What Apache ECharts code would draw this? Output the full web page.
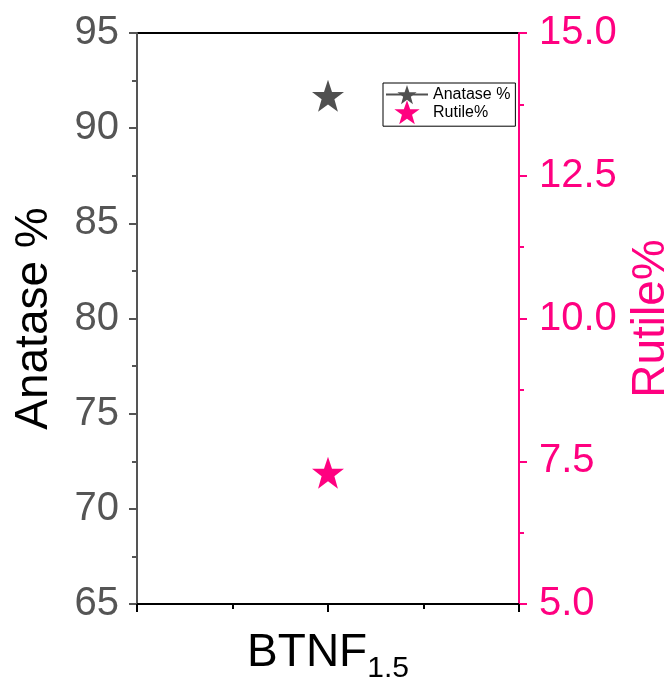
<!DOCTYPE html>
<html>
<head>
<meta charset="utf-8">
<script src="https://cdn.jsdelivr.net/npm/echarts@6/dist/echarts.min.js"></script>
<style>
  html, body { margin: 0; padding: 0; background: #fff; }
  #chart { width: 671px; height: 686px; }
</style>
</head>
<body>
<div id="chart"></div>
<script>
// sample names; 'BTNF' with subscript '1.5'
const categories = [['BTNF', '1.5']];
const anatase = [91.7];
const rutile = [7.3];
const leftRange = [65, 95, 5];
const rightRange = [5, 15, 2.5];

const GRAY = '#555555';
const PINK = '#ff0080';
const STAR = 'path://M50,0 L62.5,36 L100,36 L70,58 L81,95 L50,73 L19,95 L30,58 L0,36 L37.5,36 Z';
const FONT = 'Liberation Sans, Arial, sans-serif';

const chart = echarts.init(document.getElementById('chart'));

const option = {
  animation: false,
  textStyle: { fontFamily: FONT },
  grid: {
    left: 137, right: 152, top: 33, bottom: 82,
    outerBoundsMode: 'none',
    containLabel: false,
    show: true, borderColor: '#000', borderWidth: 2
  },
  legend: {
    orient: 'vertical',
    left: 383, top: 83,
    padding: [2, 5, 2, 2],
    itemGap: -4,
    itemWidth: 42, itemHeight: 24,
    borderColor: '#000', borderWidth: 1,
    backgroundColor: '#fff',
    textStyle: { fontSize: 16, color: '#000', fontFamily: FONT },
    data: ['Anatase %', 'Rutile%']
  },
  xAxis: {
    type: 'value',
    min: 0, max: categories.length + 1, interval: 1,
    splitLine: { show: false },
    axisLine: { show: true, lineStyle: { color: '#000', width: 2 } },
    axisTick: { show: true, inside: false, length: 8, lineStyle: { color: '#000', width: 2 } },
    minorTick: { show: true, splitNumber: 2, length: 5, lineStyle: { color: '#000', width: 2 } },
    axisLabel: {
      margin: 22,
      color: '#000',
      formatter: v => {
        const c = categories[v - 1];
        return c ? '{b|' + c[0] + '}{s|' + c[1] + '}' : '';
      },
      rich: {
        b: { fontSize: 46, fontFamily: FONT, color: '#000', verticalAlign: 'bottom', lineHeight: 50 },
        s: { fontSize: 30, fontFamily: FONT, color: '#000', verticalAlign: 'bottom', padding: [0, 0, -8, 0] }
      }
    }
  },
  yAxis: [
    {
      type: 'value',
      min: leftRange[0], max: leftRange[1], interval: leftRange[2],
      position: 'left',
      name: 'Anatase %',
      nameLocation: 'middle',
      nameGap: 80,
      nameTextStyle: { fontSize: 46, color: '#000', fontFamily: FONT },
      splitLine: { show: false },
      axisLine: { show: true, lineStyle: { color: GRAY, width: 2 } },
      axisTick: { show: true, length: 8, lineStyle: { color: GRAY, width: 2 } },
      minorTick: { show: true, splitNumber: 2, length: 5, lineStyle: { color: GRAY, width: 2 } },
      axisLabel: { fontSize: 40, color: GRAY, margin: 18, fontFamily: FONT }
    },
    {
      type: 'value',
      min: rightRange[0], max: rightRange[1], interval: rightRange[2],
      position: 'right',
      name: 'Rutile%',
      nameLocation: 'middle',
      nameRotate: 90,
      nameGap: 109,
      nameTextStyle: { fontSize: 46, color: PINK, fontFamily: FONT },
      splitLine: { show: false },
      axisLine: { show: true, lineStyle: { color: PINK, width: 2 } },
      axisTick: { show: true, length: 8, lineStyle: { color: PINK, width: 2 } },
      minorTick: { show: true, splitNumber: 2, length: 5, lineStyle: { color: PINK, width: 2 } },
      axisLabel: {
        fontSize: 40, color: PINK, margin: 20, fontFamily: FONT,
        formatter: v => v.toFixed(1)
      }
    }
  ],
  series: [
    {
      name: 'Anatase %',
      type: 'line',
      yAxisIndex: 0,
      symbol: STAR,
      symbolSize: 32,
      itemStyle: { color: '#505050', opacity: 1 },
      lineStyle: { color: '#505050', width: 1 },
      data: anatase.map((v, i) => [i + 1, v])
    },
    {
      name: 'Rutile%',
      type: 'scatter',
      yAxisIndex: 1,
      symbol: STAR,
      symbolSize: 32,
      itemStyle: { color: PINK, opacity: 1 },
      data: rutile.map((v, i) => [i + 1, v])
    }
  ]
};

chart.setOption(option);
</script>
</body>
</html>
